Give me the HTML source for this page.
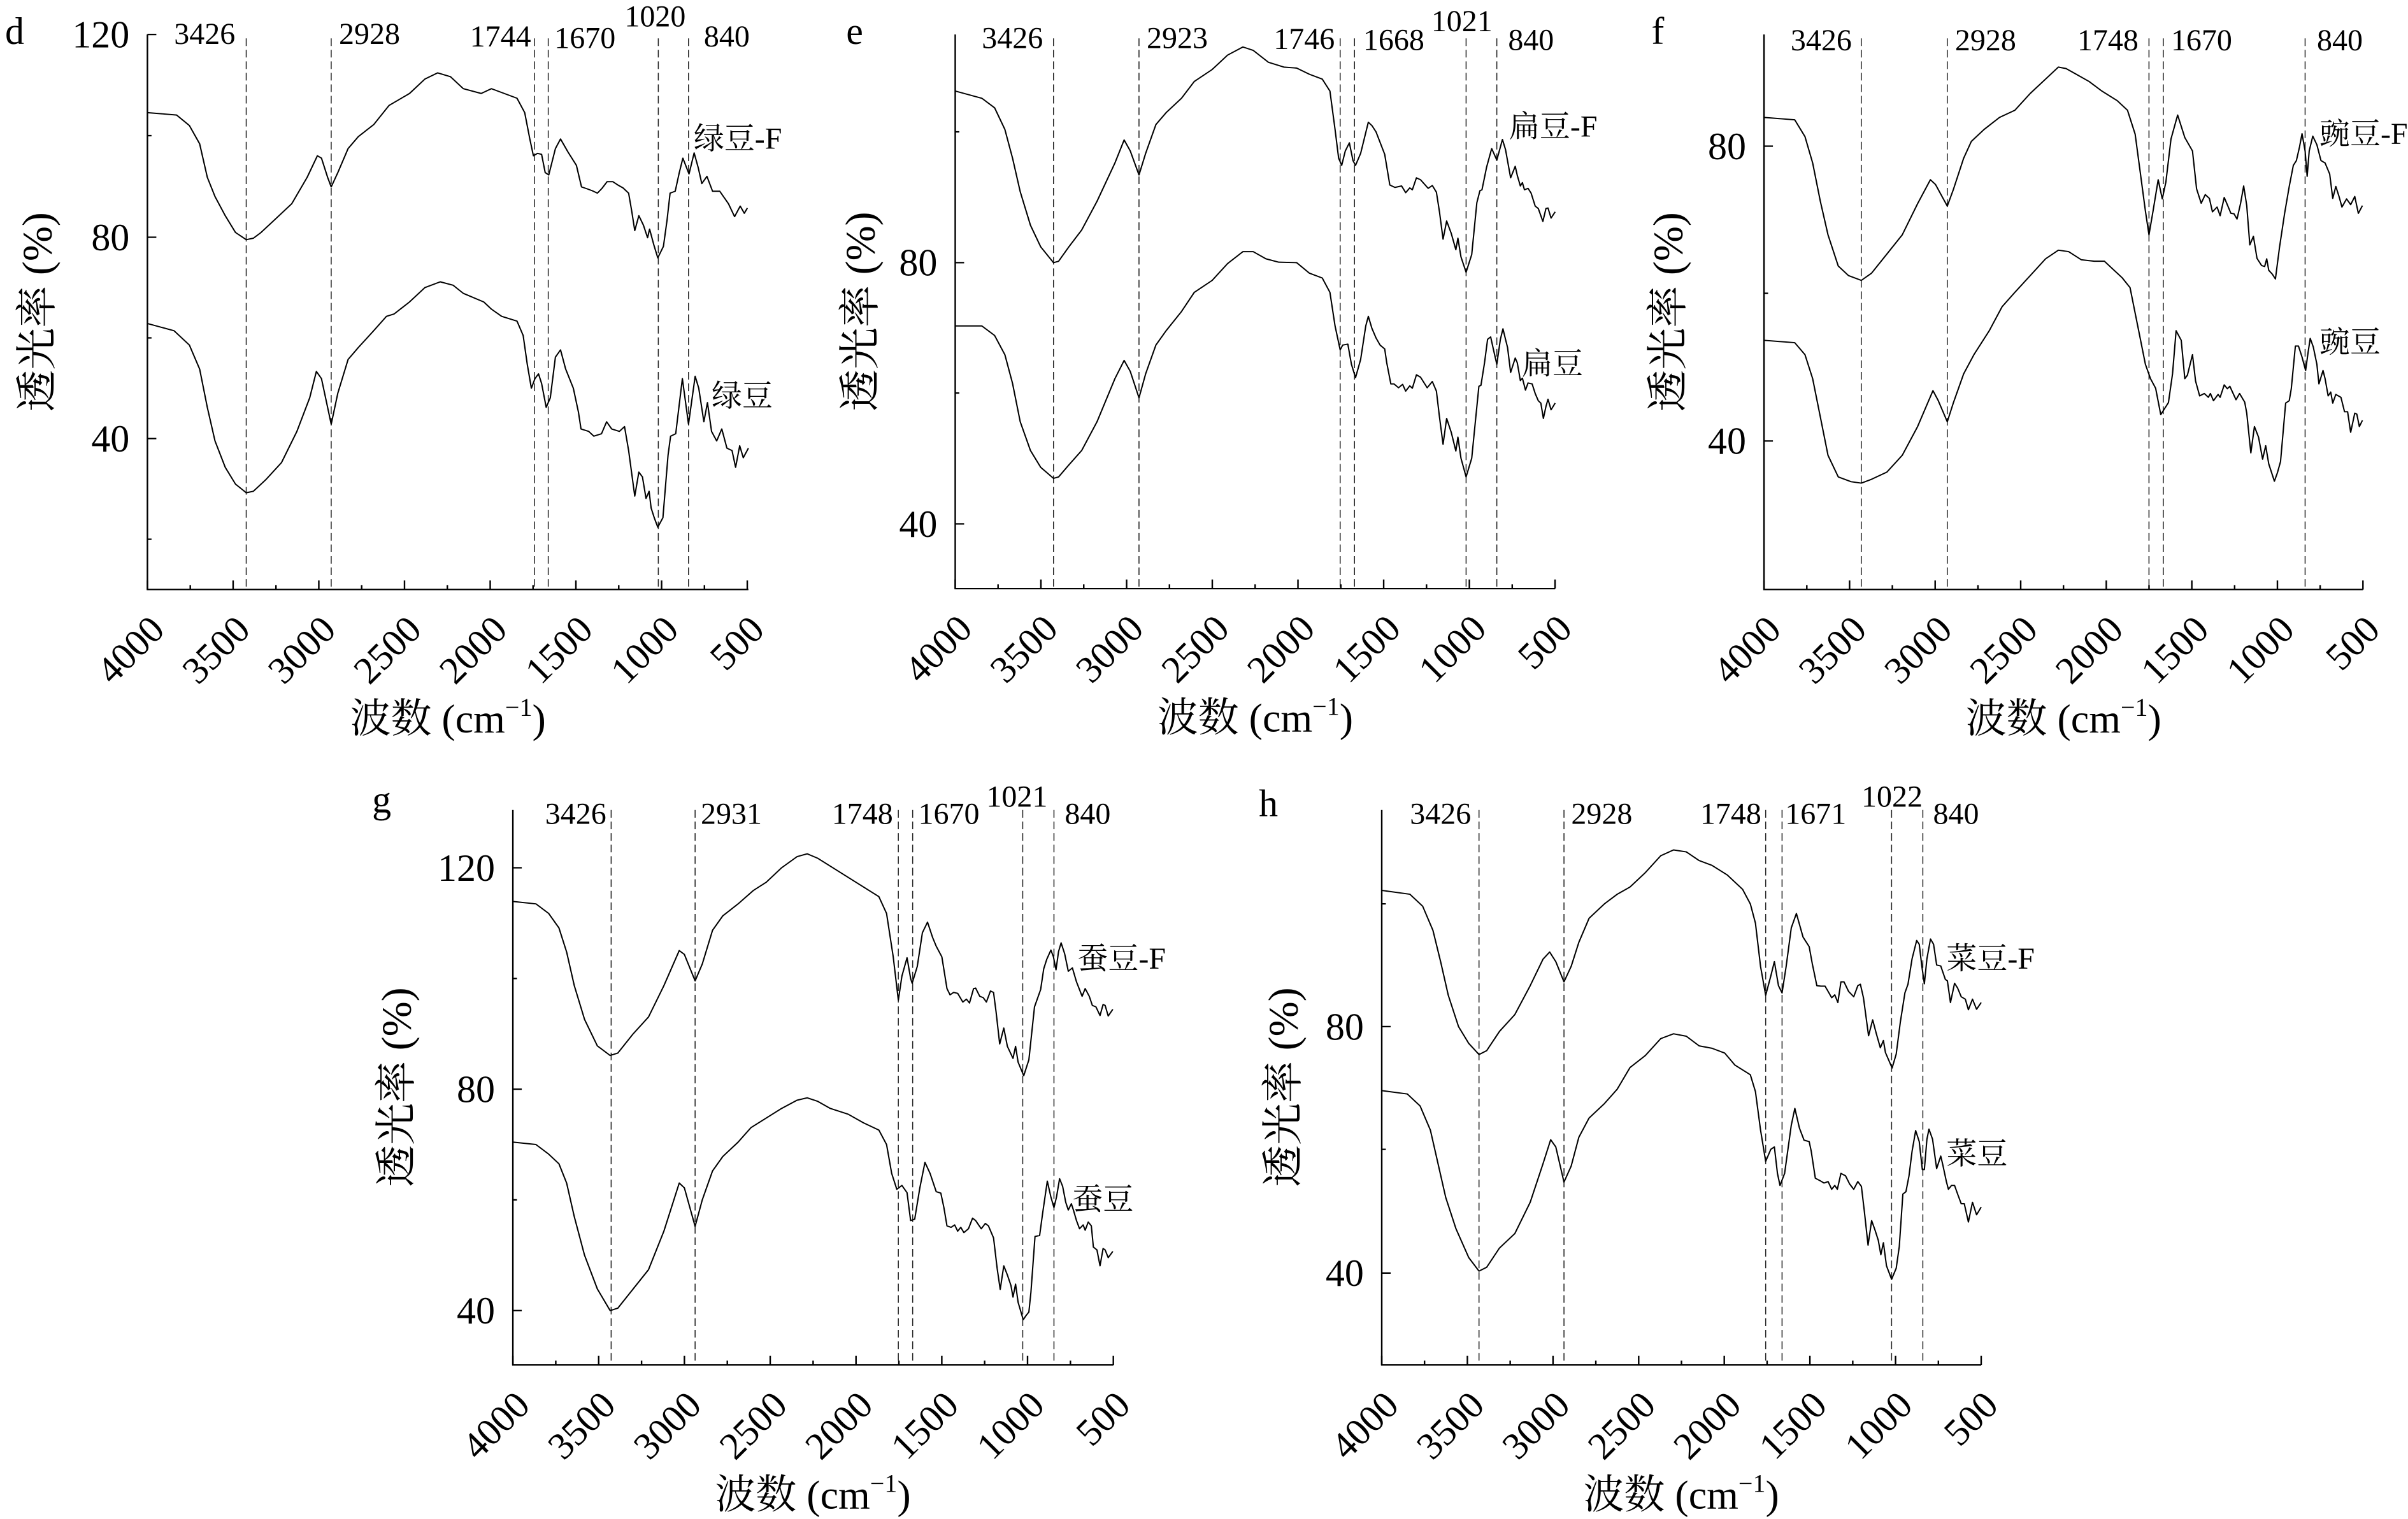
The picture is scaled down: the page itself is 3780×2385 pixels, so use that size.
<!DOCTYPE html>
<html><head><meta charset="utf-8"><style>
html,body{margin:0;padding:0;background:#fff}
svg{display:block}
text{font-family:"Liberation Serif","Noto Serif CJK SC",serif;fill:#000}
.t{font-size:60px}.p{font-size:48px}.s{font-size:48px}.a{font-size:64px}.ya{font-size:66px}.l{font-size:60px}
.c{fill:none;stroke:#000;stroke-width:2.6;stroke-linejoin:round}
.ax{fill:none;stroke:#000;stroke-width:3}
.dl{stroke:#222;stroke-width:1.9;stroke-dasharray:16 8}
</style></head><body>
<svg xmlns="http://www.w3.org/2000/svg" width="3780" height="2385" viewBox="0 0 3780 2385">
<rect width="3780" height="2385" fill="#fff"/>

<!-- ===== Panel d ===== -->
<g transform="translate(0,0) scale(0.80357,0.75255)">
<g class="dl"><line x1="481" y1="80" x2="481" y2="1230"/><line x1="647" y1="80" x2="647" y2="1230"/><line x1="1044" y1="80" x2="1044" y2="1230"/><line x1="1071" y1="80" x2="1071" y2="1230"/><line x1="1286" y1="80" x2="1286" y2="1230"/><line x1="1345" y1="80" x2="1345" y2="1230"/></g>
<path class="ax" d="M288,72V1230H1462"/>
<path class="ax" d="M288,72h17.4M288,495h17.4M288,915h17.4M288,283h8M288,705h8M288,1125h8"/>
<path class="ax" transform="translate(288,1230)" d="M0,0V-19M83.7,0V-9M167.4,0V-19M251.1,0V-9M334.8,0V-19M418.5,0V-9M502.2,0V-19M585.9,0V-9M669.6,0V-19M753.3,0V-9M837,0V-19M920.7,0V-9M1004.4,0V-19M1088.1,0V-9M1171.8,0V-19"/>
<polyline class="c" points="288,235 345,240 370,262 390,300 405,370 420,410 440,450 460,485 481,500 495,497 510,485 540,455 570,425 600,370 620,325 628,330 640,370 647,390 660,360 680,310 700,285 730,260 760,220 800,195 830,165 855,152 880,160 905,185 940,195 960,185 985,195 1010,205 1025,235 1035,290 1042,325 1050,320 1058,322 1065,360 1072,365 1085,310 1095,290 1110,318 1126,345 1136,390 1147,394 1157,398 1167,403 1176,393 1186,379 1197,379 1207,386 1217,392 1228,403 1234,440 1240,481 1248,450 1257,470 1265,496 1269,478 1277,510 1285,538 1296,514 1303,460 1309,403 1319,399 1327,360 1334,330 1346,363 1356,319 1364,350 1371,383 1381,368 1392,399 1406,399 1423,425 1435,452 1446,430 1454,445 1460,434"/>
<polyline class="c" points="288,675 340,690 370,720 390,770 405,850 420,920 440,975 460,1010 481,1028 495,1025 520,1000 550,965 580,900 605,830 618,775 628,790 647,885 660,820 680,750 700,725 730,690 755,660 770,655 800,630 830,600 860,588 885,595 905,612 945,630 960,645 980,660 1010,670 1022,700 1030,760 1038,810 1045,790 1052,780 1058,800 1067,850 1075,830 1085,745 1095,730 1105,770 1120,810 1130,860 1135,895 1150,900 1160,910 1175,905 1185,880 1195,895 1210,900 1220,890 1228,940 1240,1035 1248,985 1255,995 1262,1040 1268,1025 1272,1060 1278,1080 1285,1100 1295,1080 1305,950 1310,910 1320,905 1333,790 1345,885 1358,785 1365,810 1375,880 1382,840 1390,900 1400,920 1410,895 1420,935 1430,940 1437,975 1445,930 1452,955 1462,935"/>
<text class="l" transform="translate(10 92) scale(1.2444 1.3288)">d</text>
<text class="t" text-anchor="end" transform="translate(253 99) scale(1.2444 1.3288)">120</text>
<text class="t" text-anchor="end" transform="translate(253 522) scale(1.2444 1.3288)">80</text>
<text class="t" text-anchor="end" transform="translate(253 942) scale(1.2444 1.3288)">40</text>
<text class="p" transform="translate(340 92) scale(1.2444 1.3288)">3426</text>
<text class="p" transform="translate(662 92) scale(1.2444 1.3288)">2928</text>
<text class="p" transform="translate(918 97) scale(1.2444 1.3288)">1744</text>
<text class="p" transform="translate(1083 100) scale(1.2444 1.3288)">1670</text>
<text class="p" transform="translate(1220 55) scale(1.2444 1.3288)">1020</text>
<text class="p" transform="translate(1375 97) scale(1.2444 1.3288)">840</text>
<text class="s" transform="translate(1355 310) scale(1.2444 1.3288)">绿豆-F</text>
<text class="s" transform="translate(1390 847) scale(1.2444 1.3288)">绿豆</text>
<g class="t" text-anchor="end">
<text transform="translate(325 1318) scale(1.2444 1.3288) rotate(-45)">4000</text>
<text transform="translate(492.4 1318) scale(1.2444 1.3288) rotate(-45)">3500</text>
<text transform="translate(659.8 1318) scale(1.2444 1.3288) rotate(-45)">3000</text>
<text transform="translate(827.2 1318) scale(1.2444 1.3288) rotate(-45)">2500</text>
<text transform="translate(994.6 1318) scale(1.2444 1.3288) rotate(-45)">2000</text>
<text transform="translate(1162 1318) scale(1.2444 1.3288) rotate(-45)">1500</text>
<text transform="translate(1329.4 1318) scale(1.2444 1.3288) rotate(-45)">1000</text>
<text transform="translate(1496.8 1318) scale(1.2444 1.3288) rotate(-45)">500</text>
</g>
<text class="a" text-anchor="middle" transform="translate(875 1528) scale(1.2444 1.3288)">波数 (cm<tspan font-size="40" dy="-26">−1</tspan><tspan dy="26">)</tspan></text>
<text class="ya" text-anchor="middle" transform="translate(100 651) scale(1.2444 1.3288) rotate(-90)">透光率 (%)</text>
</g>

<!-- ===== Panel e ===== -->
<g transform="translate(1260,0) scale(0.80357,0.75255)">
<g class="dl"><line x1="490" y1="80" x2="490" y2="1228"/><line x1="657" y1="80" x2="657" y2="1228"/><line x1="1050" y1="80" x2="1050" y2="1228"/><line x1="1078" y1="80" x2="1078" y2="1228"/><line x1="1296" y1="80" x2="1296" y2="1228"/><line x1="1356" y1="80" x2="1356" y2="1228"/></g>
<path class="ax" d="M298,72V1228H1470"/>
<path class="ax" d="M298,548h17.4M298,1093h17.4M298,275h8M298,820h8"/>
<path class="ax" transform="translate(298,1228)" d="M0,0V-19M83.7,0V-9M167.4,0V-19M251.1,0V-9M334.8,0V-19M418.5,0V-9M502.2,0V-19M585.9,0V-9M669.6,0V-19M753.3,0V-9M837,0V-19M920.7,0V-9M1004.4,0V-19M1088.1,0V-9M1171.8,0V-19"/>
<polyline class="c" points="298,190 350,205 375,225 395,270 410,330 425,400 445,470 465,515 490,548 500,545 520,515 545,480 575,420 610,340 628,292 640,315 657,365 670,320 690,260 710,235 740,205 765,170 800,145 830,115 860,98 880,105 910,130 940,140 965,142 990,155 1015,165 1030,190 1040,270 1047,330 1053,345 1060,315 1068,298 1075,335 1080,345 1090,320 1105,255 1112,262 1120,275 1137,322 1147,386 1157,391 1170,388 1178,402 1186,392 1191,396 1199,371 1207,375 1222,393 1230,387 1238,401 1244,442 1251,499 1258,461 1267,487 1276,521 1280,497 1286,536 1296,568 1307,531 1317,423 1323,398 1327,396 1336,349 1346,310 1356,334 1367,291 1373,312 1383,371 1392,347 1396,366 1402,388 1406,381 1410,396 1417,393 1423,403 1431,430 1437,435 1446,462 1452,435 1456,434 1462,455 1470,442"/>
<polyline class="c" points="298,680 350,680 375,700 395,740 410,800 425,880 445,940 465,975 490,998 500,995 520,970 545,940 575,880 610,790 628,752 640,775 657,830 670,780 690,720 710,690 740,650 765,610 800,585 830,550 860,525 880,525 905,540 930,547 965,548 990,570 1015,580 1030,610 1040,680 1050,730 1055,720 1065,718 1072,760 1080,788 1090,750 1100,680 1105,660 1112,685 1120,705 1128,720 1137,728 1141,757 1149,801 1155,801 1164,809 1172,802 1178,816 1186,805 1191,810 1199,782 1207,787 1220,809 1230,796 1238,816 1244,870 1251,927 1258,873 1267,902 1276,941 1280,912 1286,956 1296,995 1307,956 1315,870 1321,806 1325,804 1332,757 1338,708 1344,703 1350,732 1356,760 1363,708 1368,686 1373,708 1377,725 1383,777 1392,747 1396,757 1402,794 1406,789 1412,814 1417,799 1425,801 1431,821 1437,836 1442,841 1447,873 1452,848 1456,833 1462,855 1470,841"/>
<text class="l" transform="translate(85 92) scale(1.2444 1.3288)">e</text>
<text class="t" text-anchor="end" transform="translate(263 575) scale(1.2444 1.3288)">80</text>
<text class="t" text-anchor="end" transform="translate(263 1120) scale(1.2444 1.3288)">40</text>
<text class="p" transform="translate(350 100) scale(1.2444 1.3288)">3426</text>
<text class="p" transform="translate(672 100) scale(1.2444 1.3288)">2923</text>
<text class="p" transform="translate(920 102) scale(1.2444 1.3288)">1746</text>
<text class="p" transform="translate(1095 104) scale(1.2444 1.3288)">1668</text>
<text class="p" transform="translate(1228 65) scale(1.2444 1.3288)">1021</text>
<text class="p" transform="translate(1378 104) scale(1.2444 1.3288)">840</text>
<text class="s" transform="translate(1380 285) scale(1.2444 1.3288)">扁豆-F</text>
<text class="s" transform="translate(1405 780) scale(1.2444 1.3288)">扁豆</text>
<g class="t" text-anchor="end">
<text transform="translate(335 1316) scale(1.2444 1.3288) rotate(-45)">4000</text>
<text transform="translate(502.4 1316) scale(1.2444 1.3288) rotate(-45)">3500</text>
<text transform="translate(669.8 1316) scale(1.2444 1.3288) rotate(-45)">3000</text>
<text transform="translate(837.2 1316) scale(1.2444 1.3288) rotate(-45)">2500</text>
<text transform="translate(1004.6 1316) scale(1.2444 1.3288) rotate(-45)">2000</text>
<text transform="translate(1172 1316) scale(1.2444 1.3288) rotate(-45)">1500</text>
<text transform="translate(1339.4 1316) scale(1.2444 1.3288) rotate(-45)">1000</text>
<text transform="translate(1506.8 1316) scale(1.2444 1.3288) rotate(-45)">500</text>
</g>
<text class="a" text-anchor="middle" transform="translate(884 1526) scale(1.2444 1.3288)">波数 (cm<tspan font-size="40" dy="-26">−1</tspan><tspan dy="26">)</tspan></text>
<text class="ya" text-anchor="middle" transform="translate(140 650) scale(1.2444 1.3288) rotate(-90)">透光率 (%)</text>
</g>

<!-- ===== Panel f ===== -->
<g transform="translate(2520,0) scale(0.80357,0.75255)">
<g class="dl"><line x1="500" y1="80" x2="500" y2="1230"/><line x1="668" y1="80" x2="668" y2="1230"/><line x1="1062" y1="80" x2="1062" y2="1230"/><line x1="1090" y1="80" x2="1090" y2="1230"/><line x1="1367" y1="80" x2="1367" y2="1230"/></g>
<path class="ax" d="M310,72V1230H1480"/>
<path class="ax" d="M310,305h17.4M310,920h17.4M310,612h8"/>
<path class="ax" transform="translate(310,1230)" d="M0,0V-19M83.6,0V-9M167.1,0V-19M250.7,0V-9M334.3,0V-19M417.9,0V-9M501.4,0V-19M585,0V-9M668.6,0V-19M752.1,0V-9M835.7,0V-19M919.3,0V-9M1002.9,0V-19M1086.4,0V-9M1170,0V-19"/>
<polyline class="c" points="310,245 370,250 390,285 405,340 420,420 435,490 455,555 475,575 500,585 520,570 550,530 580,490 610,425 635,375 645,385 668,430 680,395 700,330 715,295 740,270 770,245 800,230 830,195 860,165 885,140 900,143 920,155 945,170 970,190 1000,210 1020,230 1035,280 1045,360 1055,440 1062,490 1070,440 1080,375 1088,415 1095,380 1105,290 1118,240 1132,287 1147,315 1155,394 1164,424 1172,406 1180,414 1186,442 1195,432 1201,450 1209,412 1215,427 1222,445 1228,446 1234,457 1241,424 1247,388 1253,429 1259,511 1266,493 1273,539 1282,554 1288,556 1292,540 1296,564 1303,572 1309,582 1317,516 1327,445 1336,389 1344,345 1350,335 1356,307 1361,279 1367,315 1371,368 1375,315 1382,284 1390,302 1398,335 1406,340 1415,363 1421,414 1427,389 1433,409 1439,432 1448,415 1456,427 1464,410 1471,445 1479,429"/>
<polyline class="c" points="310,710 370,715 390,740 405,790 420,870 435,950 455,995 480,1005 500,1008 520,1000 550,985 580,950 610,890 640,815 650,835 668,880 680,840 700,780 720,740 750,690 775,640 800,610 830,575 860,540 885,522 905,525 930,542 955,545 975,545 990,560 1010,580 1025,600 1040,680 1055,760 1065,790 1075,810 1085,865 1100,840 1108,780 1115,690 1125,710 1132,790 1137,783 1147,740 1153,795 1161,826 1170,821 1178,829 1182,821 1188,836 1197,823 1201,829 1209,803 1215,811 1220,806 1232,834 1239,821 1249,839 1253,862 1261,945 1268,890 1276,912 1284,958 1290,930 1296,968 1307,1004 1313,986 1319,963 1329,841 1336,836 1340,811 1348,722 1354,722 1361,745 1368,773 1373,734 1377,706 1383,724 1390,760 1394,801 1402,773 1406,790 1412,826 1417,818 1421,841 1427,823 1437,829 1444,859 1450,859 1456,902 1464,862 1468,864 1473,890 1479,877"/>
<text class="l" transform="translate(90 92) scale(1.2444 1.3288)">f</text>
<text class="t" text-anchor="end" transform="translate(275 332) scale(1.2444 1.3288)">80</text>
<text class="t" text-anchor="end" transform="translate(275 947) scale(1.2444 1.3288)">40</text>
<text class="p" transform="translate(362 105) scale(1.2444 1.3288)">3426</text>
<text class="p" transform="translate(683 105) scale(1.2444 1.3288)">2928</text>
<text class="p" transform="translate(922 105) scale(1.2444 1.3288)">1748</text>
<text class="p" transform="translate(1105 105) scale(1.2444 1.3288)">1670</text>
<text class="p" transform="translate(1390 105) scale(1.2444 1.3288)">840</text>
<text class="s" transform="translate(1395 300) scale(1.2444 1.3288)">豌豆-F</text>
<text class="s" transform="translate(1395 735) scale(1.2444 1.3288)">豌豆</text>
<g class="t" text-anchor="end">
<text transform="translate(347 1318) scale(1.2444 1.3288) rotate(-45)">4000</text>
<text transform="translate(514.1 1318) scale(1.2444 1.3288) rotate(-45)">3500</text>
<text transform="translate(681.3 1318) scale(1.2444 1.3288) rotate(-45)">3000</text>
<text transform="translate(848.4 1318) scale(1.2444 1.3288) rotate(-45)">2500</text>
<text transform="translate(1015.6 1318) scale(1.2444 1.3288) rotate(-45)">2000</text>
<text transform="translate(1182.7 1318) scale(1.2444 1.3288) rotate(-45)">1500</text>
<text transform="translate(1349.9 1318) scale(1.2444 1.3288) rotate(-45)">1000</text>
<text transform="translate(1517 1318) scale(1.2444 1.3288) rotate(-45)">500</text>
</g>
<text class="a" text-anchor="middle" transform="translate(895 1528) scale(1.2444 1.3288)">波数 (cm<tspan font-size="40" dy="-26">−1</tspan><tspan dy="26">)</tspan></text>
<text class="ya" text-anchor="middle" transform="translate(150 651) scale(1.2444 1.3288) rotate(-90)">透光率 (%)</text>
</g>

<!-- ===== Panel g ===== -->
<g transform="translate(560,1200) scale(0.80357,0.75574)">
<g class="dl"><line x1="497" y1="95" x2="497" y2="1248"/><line x1="661" y1="95" x2="661" y2="1248"/><line x1="1058" y1="95" x2="1058" y2="1248"/><line x1="1086" y1="95" x2="1086" y2="1248"/><line x1="1301" y1="95" x2="1301" y2="1248"/><line x1="1362" y1="95" x2="1362" y2="1248"/></g>
<path class="ax" d="M305,95V1248H1478"/>
<path class="ax" d="M305,215h17.4M305,675h17.4M305,1135h17.4M305,445h8M305,905h8"/>
<path class="ax" transform="translate(305,1248)" d="M0,0V-19M83.8,0V-9M167.6,0V-19M251.4,0V-9M335.1,0V-19M418.9,0V-9M502.7,0V-19M586.5,0V-9M670.3,0V-19M754.1,0V-9M837.9,0V-19M921.6,0V-9M1005.4,0V-19M1089.2,0V-9M1173,0V-19"/>
<polyline class="c" points="305,285 350,290 375,310 395,340 410,390 425,460 445,530 470,585 495,605 510,600 540,560 570,525 600,460 630,387 640,395 661,450 675,415 695,345 715,315 745,290 775,262 800,245 830,215 860,192 880,186 900,195 930,215 960,235 990,255 1020,275 1035,310 1048,400 1058,490 1065,440 1075,402 1082,445 1085,455 1095,420 1105,350 1115,328 1125,360 1132,378 1143,400 1153,466 1159,479 1166,474 1174,476 1184,494 1191,488 1197,496 1205,466 1209,465 1217,482 1224,485 1230,494 1238,471 1244,474 1249,515 1256,581 1264,548 1271,586 1282,611 1287,586 1292,619 1303,647 1313,614 1324,504 1336,468 1342,425 1348,405 1356,386 1361,400 1366,427 1371,389 1376,371 1383,394 1390,430 1398,423 1406,452 1417,482 1423,466 1431,482 1437,501 1444,504 1452,522 1458,499 1462,501 1468,523 1477,509"/>
<polyline class="c" points="305,785 350,790 375,810 395,830 410,870 425,940 445,1020 470,1090 495,1135 510,1130 540,1090 570,1050 600,970 630,870 640,880 661,960 675,905 695,845 715,815 745,785 770,755 800,735 830,715 860,698 880,693 900,700 925,715 960,727 990,745 1020,760 1035,790 1045,850 1055,883 1065,875 1075,890 1082,948 1090,945 1100,880 1110,827 1120,850 1132,888 1141,891 1147,921 1153,959 1161,962 1168,957 1174,970 1180,962 1186,973 1195,965 1203,943 1209,948 1220,965 1228,954 1234,959 1244,984 1251,1047 1257,1091 1264,1042 1271,1061 1278,1083 1282,1107 1287,1080 1292,1118 1302,1154 1307,1146 1313,1138 1317,1097 1325,981 1334,979 1340,932 1349,866 1356,899 1362,921 1367,899 1373,861 1379,877 1385,910 1390,926 1396,913 1400,926 1406,948 1412,965 1419,957 1423,968 1429,951 1435,959 1439,1003 1446,1009 1452,1042 1458,1006 1462,1009 1468,1025 1477,1012"/>
<text class="l" transform="translate(30 100) scale(1.2444 1.3232)">g</text>
<text class="t" text-anchor="end" transform="translate(270 242) scale(1.2444 1.3232)">120</text>
<text class="t" text-anchor="end" transform="translate(270 702) scale(1.2444 1.3232)">80</text>
<text class="t" text-anchor="end" transform="translate(270 1162) scale(1.2444 1.3232)">40</text>
<text class="p" transform="translate(368 124) scale(1.2444 1.3232)">3426</text>
<text class="p" transform="translate(672 124) scale(1.2444 1.3232)">2931</text>
<text class="p" transform="translate(928 124) scale(1.2444 1.3232)">1748</text>
<text class="p" transform="translate(1097 124) scale(1.2444 1.3232)">1670</text>
<text class="p" transform="translate(1230 88) scale(1.2444 1.3232)">1021</text>
<text class="p" transform="translate(1383 124) scale(1.2444 1.3232)">840</text>
<text class="s" transform="translate(1408 425) scale(1.2444 1.3232)">蚕豆-F</text>
<text class="s" transform="translate(1398 925) scale(1.2444 1.3232)">蚕豆</text>
<g class="t" text-anchor="end">
<text transform="translate(342 1336) scale(1.2444 1.3232) rotate(-45)">4000</text>
<text transform="translate(509.6 1336) scale(1.2444 1.3232) rotate(-45)">3500</text>
<text transform="translate(677.1 1336) scale(1.2444 1.3232) rotate(-45)">3000</text>
<text transform="translate(844.7 1336) scale(1.2444 1.3232) rotate(-45)">2500</text>
<text transform="translate(1012.3 1336) scale(1.2444 1.3232) rotate(-45)">2000</text>
<text transform="translate(1179.9 1336) scale(1.2444 1.3232) rotate(-45)">1500</text>
<text transform="translate(1347.4 1336) scale(1.2444 1.3232) rotate(-45)">1000</text>
<text transform="translate(1515 1336) scale(1.2444 1.3232) rotate(-45)">500</text>
</g>
<text class="a" text-anchor="middle" transform="translate(891 1546) scale(1.2444 1.3232)">波数 (cm<tspan font-size="40" dy="-26">−1</tspan><tspan dy="26">)</tspan></text>
<text class="ya" text-anchor="middle" transform="translate(105 671) scale(1.2444 1.3232) rotate(-90)">透光率 (%)</text>
</g>

<!-- ===== Panel h ===== -->
<g transform="translate(1940,1200) scale(0.80357,0.75574)">
<g class="dl"><line x1="475" y1="95" x2="475" y2="1248"/><line x1="641" y1="95" x2="641" y2="1248"/><line x1="1035" y1="95" x2="1035" y2="1248"/><line x1="1067" y1="95" x2="1067" y2="1248"/><line x1="1281" y1="95" x2="1281" y2="1248"/><line x1="1342" y1="95" x2="1342" y2="1248"/></g>
<path class="ax" d="M285,95V1248H1456"/>
<path class="ax" d="M285,545h17.4M285,1057h17.4M285,290h8M285,800h8"/>
<path class="ax" transform="translate(285,1248)" d="M0,0V-19M83.6,0V-9M167.3,0V-19M250.9,0V-9M334.6,0V-19M418.2,0V-9M501.9,0V-19M585.5,0V-9M669.1,0V-19M752.8,0V-9M836.4,0V-19M920.1,0V-9M1003.7,0V-19M1087.4,0V-9M1171,0V-19"/>
<polyline class="c" points="285,262 340,270 365,295 385,345 400,410 415,480 435,545 455,580 475,603 490,595 515,555 545,520 575,460 600,405 613,390 625,410 641,452 655,420 670,370 690,320 720,290 745,270 770,255 800,225 830,190 855,178 880,182 905,200 930,210 960,230 990,260 1005,290 1015,330 1025,420 1035,480 1045,440 1052,410 1060,460 1067,475 1075,420 1085,340 1095,310 1108,359 1120,379 1126,414 1135,460 1143,461 1151,461 1157,472 1164,485 1170,479 1176,495 1182,452 1188,452 1197,472 1207,483 1215,460 1220,457 1226,485 1236,564 1244,531 1251,559 1259,589 1265,574 1269,599 1282,631 1290,602 1298,536 1307,475 1313,457 1321,404 1330,366 1335,374 1340,419 1345,456 1350,404 1357,363 1363,374 1369,417 1377,419 1386,447 1390,450 1396,495 1404,455 1410,465 1417,483 1425,488 1431,510 1439,488 1447,509 1456,495"/>
<polyline class="c" points="285,678 335,685 360,710 380,760 395,830 410,900 430,965 455,1025 475,1053 490,1045 515,1005 545,975 575,910 600,830 615,780 625,795 641,868 655,835 670,775 690,735 720,705 745,675 770,630 800,605 830,570 855,560 880,565 905,585 930,590 955,600 975,625 1005,645 1015,680 1025,760 1035,825 1045,800 1052,795 1058,850 1063,875 1072,850 1085,750 1092,715 1101,756 1110,781 1120,784 1124,804 1132,860 1141,865 1149,870 1157,867 1164,883 1170,875 1175,883 1182,850 1191,855 1199,872 1207,883 1215,867 1222,877 1228,931 1235,999 1242,948 1249,969 1255,989 1260,1019 1265,994 1271,1042 1281,1070 1290,1047 1296,1002 1303,893 1309,888 1315,855 1321,804 1328,761 1335,784 1341,842 1345,842 1350,779 1354,758 1361,779 1369,840 1377,814 1381,832 1388,867 1392,883 1398,875 1404,875 1410,893 1417,913 1423,913 1431,951 1439,910 1447,936 1456,920"/>
<text class="l" transform="translate(45 108) scale(1.2444 1.3232)">h</text>
<text class="t" text-anchor="end" transform="translate(250 572) scale(1.2444 1.3232)">80</text>
<text class="t" text-anchor="end" transform="translate(250 1084) scale(1.2444 1.3232)">40</text>
<text class="p" transform="translate(340 124) scale(1.2444 1.3232)">3426</text>
<text class="p" transform="translate(655 124) scale(1.2444 1.3232)">2928</text>
<text class="p" transform="translate(907 124) scale(1.2444 1.3232)">1748</text>
<text class="p" transform="translate(1073 124) scale(1.2444 1.3232)">1671</text>
<text class="p" transform="translate(1222 88) scale(1.2444 1.3232)">1022</text>
<text class="p" transform="translate(1362 124) scale(1.2444 1.3232)">840</text>
<text class="s" transform="translate(1388 425) scale(1.2444 1.3232)">菜豆-F</text>
<text class="s" transform="translate(1388 830) scale(1.2444 1.3232)">菜豆</text>
<g class="t" text-anchor="end">
<text transform="translate(322 1336) scale(1.2444 1.3232) rotate(-45)">4000</text>
<text transform="translate(489.3 1336) scale(1.2444 1.3232) rotate(-45)">3500</text>
<text transform="translate(656.6 1336) scale(1.2444 1.3232) rotate(-45)">3000</text>
<text transform="translate(823.9 1336) scale(1.2444 1.3232) rotate(-45)">2500</text>
<text transform="translate(991.1 1336) scale(1.2444 1.3232) rotate(-45)">2000</text>
<text transform="translate(1158.4 1336) scale(1.2444 1.3232) rotate(-45)">1500</text>
<text transform="translate(1325.7 1336) scale(1.2444 1.3232) rotate(-45)">1000</text>
<text transform="translate(1493 1336) scale(1.2444 1.3232) rotate(-45)">500</text>
</g>
<text class="a" text-anchor="middle" transform="translate(870 1546) scale(1.2444 1.3232)">波数 (cm<tspan font-size="40" dy="-26">−1</tspan><tspan dy="26">)</tspan></text>
<text class="ya" text-anchor="middle" transform="translate(120 671) scale(1.2444 1.3232) rotate(-90)">透光率 (%)</text>
</g>
</svg>
</body></html>
